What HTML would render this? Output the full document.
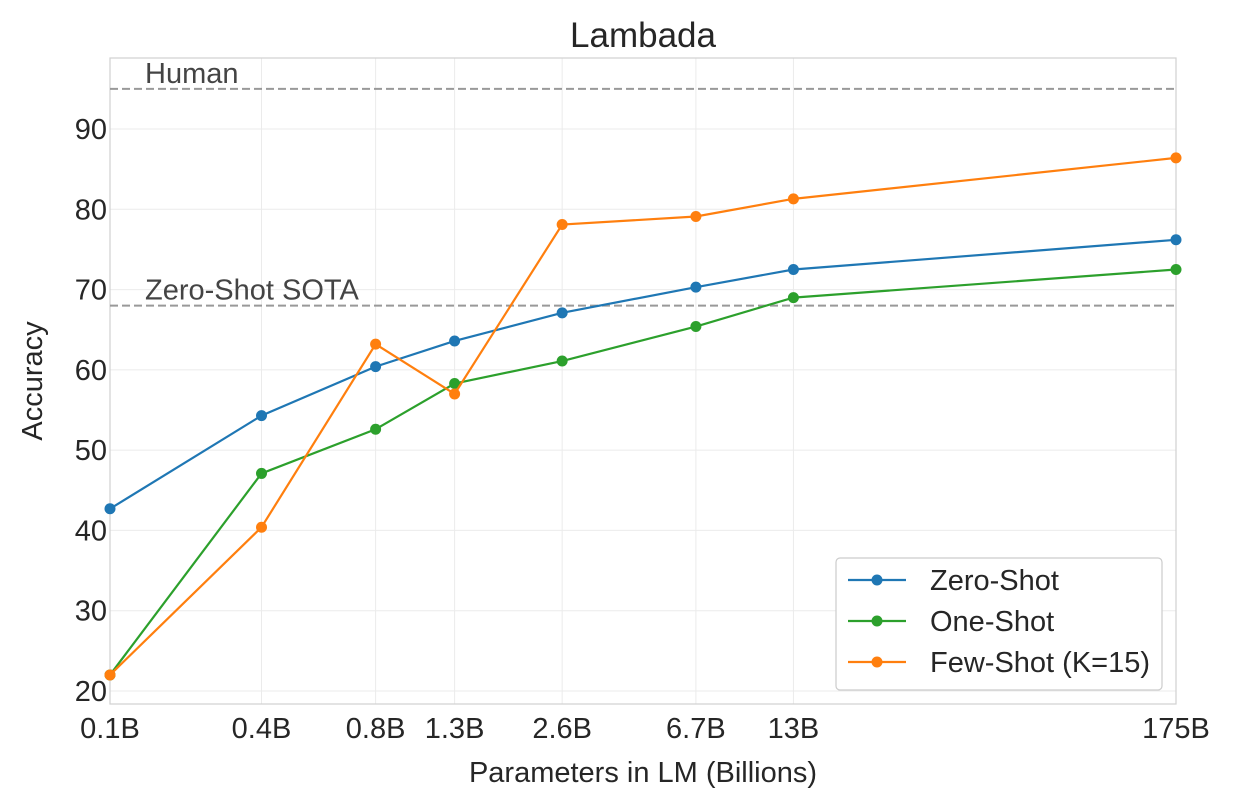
<!DOCTYPE html>
<html><head><meta charset="utf-8">
<style>
html,body{margin:0;padding:0;background:#fff;}
svg{display:block;font-family:"Liberation Sans",Arial,sans-serif;}
</style></head>
<body>
<svg id="chart" width="1236" height="804"></svg>
<script>
const categories = ["0.1B","0.4B","0.8B","1.3B","2.6B","6.7B","13B","175B"];
const paramsB = [0.125,0.35,0.76,1.3,2.7,6.7,13,175];
const zeroShot = [42.7,54.3,60.4,63.6,67.1,70.3,72.5,76.2];
const oneShot = [22.0,47.1,52.6,58.3,61.1,65.4,69.0,72.5];
const fewShot = [22.0,40.4,63.2,57.0,78.1,79.1,81.3,86.4];
const yTicks = [20,30,40,50,60,70,80,90];
const humanLevel = 95;
const sotaLevel = 68;

const NS="http://www.w3.org/2000/svg";
const svg=document.getElementById('chart');
const L=110,R=1176,T=58,B=704;
const FS=29;
const lx0=Math.log10(paramsB[0]), lx1=Math.log10(paramsB[paramsB.length-1]);
const xs=v=>L+(Math.log10(v)-lx0)/(lx1-lx0)*(R-L);
const ys=v=>691-(v-20)*(691-129)/70;
function mk(tag,attrs,parent){const e=document.createElementNS(NS,tag);for(const k in attrs)e.setAttribute(k,attrs[k]);(parent||svg).appendChild(e);return e;}

yTicks.forEach(t=>{
  const g=mk('line',{x1:L,x2:R,y1:ys(t),y2:ys(t),stroke:'#ebebeb','stroke-width':1});
  
  
  const tx=mk('text',{x:L-3,y:ys(t)+10,'text-anchor':'end','font-size':FS,fill:'#262626'});
  tx.textContent=t;
  
  
});
paramsB.forEach((p,i)=>{
  const g=mk('line',{x1:xs(p),x2:xs(p),y1:T,y2:B,stroke:'#ebebeb','stroke-width':1});
  
  
  const tx=mk('text',{x:xs(p),y:738,'text-anchor':'middle','font-size':FS,fill:'#262626'});
  tx.textContent=categories[i];
  
  
});
const frame=mk('rect',{x:L,y:T,width:R-L,height:B-T,fill:'none',stroke:'#d0d0d0','stroke-width':1.2});



[[humanLevel,'Human','human-line'],[sotaLevel,'Zero-Shot SOTA','sota-line']].forEach(([v,lab,nm])=>{
  const l=mk('line',{x1:L,x2:R,y1:ys(v),y2:ys(v),stroke:'#999','stroke-width':2,'stroke-dasharray':'8,4'});
  
  
  const t=mk('text',{x:145,y:ys(v)-6,'font-size':FS,fill:'#444'});
  t.textContent=lab;
  
  
});

const series=[[zeroShot,'#1f77b4','zero-shot'],[oneShot,'#2ca02c','one-shot'],[fewShot,'#ff7f0e','few-shot']];
series.forEach(([vals,col,nm])=>{
  const pts=vals.map((v,i)=>xs(paramsB[i])+','+ys(v)).join(' ');
  const pl=mk('polyline',{points:pts,fill:'none',stroke:col,'stroke-width':2.2});
  
  
  vals.forEach((v,i)=>{
    const c=mk('circle',{cx:xs(paramsB[i]),cy:ys(v),r:5.5,fill:col});
    
    
  });
});

let t=mk('text',{x:643,y:47,'text-anchor':'middle','font-size':35,fill:'#262626'});t.textContent='Lambada';


t=mk('text',{x:643,y:782,'text-anchor':'middle','font-size':FS,fill:'#262626'});t.textContent='Parameters in LM (Billions)';


t=mk('text',{x:0,y:0,'text-anchor':'middle','font-size':FS,fill:'#262626',transform:'translate(42,381) rotate(-90)'});t.textContent='Accuracy';



const lg=mk('g',{});


mk('rect',{x:836,y:558,width:326,height:132,rx:4,fill:'#fff',stroke:'#cccccc','stroke-width':1.2},lg);
const labels=['Zero-Shot','One-Shot','Few-Shot (K=15)'];
series.forEach(([v,col,nm],i)=>{
  const y=580+i*41;
  const e=mk('g',{},lg);
  
  
  mk('line',{x1:848,x2:906,y1:y,y2:y,stroke:col,'stroke-width':2.2},e);
  mk('circle',{cx:877,cy:y,r:5.5,fill:col},e);
  const tx=mk('text',{x:930,y:y+10,'font-size':FS,fill:'#262626'},e);
  tx.textContent=labels[i];
});
</script>
</body></html>
